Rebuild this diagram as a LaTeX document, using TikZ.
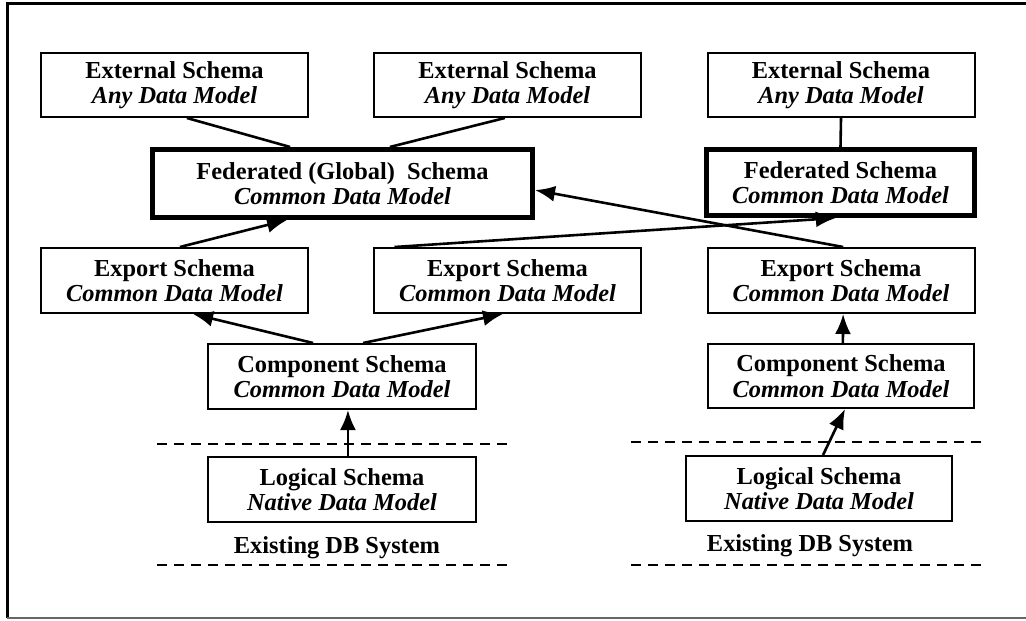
\documentclass[tikz,border=0pt]{standalone}
\usepackage{fontspec}
\setmainfont{Liberation Serif}
\usetikzlibrary{arrows.meta,calc}

\tikzset{
  x=0.5pt, y=-0.5pt,
  txt/.style={font=\fontsize{12.2}{12.8}\selectfont\bfseries, align=center},
  schema/.style={txt, draw, line width=1pt, inner sep=0pt,
                 minimum width=133.5pt, minimum height=32pt},
  fedbox/.style={schema, line width=2.5pt},
  conn/.style={line width=1.3pt},
  arr/.style={conn, -{Latex[length=10pt,width=8pt]}},
  sep/.style={dashed, line width=0.6pt, dash pattern=on 5pt off 3.5pt},
}
\newcommand{\sch}[2]{#1\\\textit{#2}}

\begin{document}
\begin{tikzpicture}
\useasboundingbox (0,0) rectangle (1026,620);

% frame
\draw[line width=1.5pt] (1026,4) -- (7,4) -- (7,618);
\draw[line width=0.8pt, black!60] (7,618) -- (1026,618);

% external level
\node[schema] (e1) at (174.5,85) {\sch{External Schema}{Any Data Model}};
\node[schema] (e2) at (507.5,85) {\sch{External Schema}{Any Data Model}};
\node[schema] (e3) at (841,85)   {\sch{External Schema}{Any Data Model}};

% federated level
\node[fedbox, minimum width=190pt, minimum height=34pt] (fg) at (342.5,183.5)
  {\sch{Federated (Global)~ Schema}{Common Data Model}};
\node[fedbox, minimum width=134pt, minimum height=33pt] (fr) at (840.5,182.5)
  {\sch{Federated Schema}{Common Data Model}};

% export level
\node[schema, minimum height=32.5pt] (x1) at (174.5,280.5) {\sch{Export Schema}{Common Data Model}};
\node[schema, minimum height=32.5pt] (x2) at (507.5,280.5) {\sch{Export Schema}{Common Data Model}};
\node[schema, minimum height=32.5pt] (x3) at (841,280.5)   {\sch{Export Schema}{Common Data Model}};

% component level
\node[schema, minimum width=134pt, minimum height=32.5pt] (c1) at (342,376.5) {\sch{Component Schema}{Common Data Model}};
\node[schema, minimum width=133pt, minimum height=32pt] (c2) at (841,376) {\sch{Component Schema}{Common Data Model}};

% local level
\node[schema, minimum width=134pt, minimum height=32.5pt] (l1) at (342,489.5) {\sch{Logical Schema}{Native Data Model}};
\node[schema, minimum width=133pt, minimum height=32.5pt] (l2) at (819,488.5) {\sch{Logical Schema}{Native Data Model}};

\node[txt] (db1) at (337,548) {Existing DB System};
\node[txt] (db2) at (810,546) {Existing DB System};

% system boundaries
\coordinate (s1a) at (157,444); \coordinate (s1b) at (510,444);
\coordinate (s2a) at (157,565); \coordinate (s2b) at (510,565);
\coordinate (s3a) at (631,442); \coordinate (s3b) at (982,442);
\coordinate (s4a) at (631,565); \coordinate (s4b) at (982,565);
\draw[sep] (s1a) -- (s1b);
\draw[sep] (s2a) -- (s2b);
\draw[sep] (s3a) -- (s3b);
\draw[sep] (s4a) -- (s4b);

% external to federated
\draw[conn] ($(e1.south west)!0.546!(e1.south east)$) -- ($(fg.north west)!0.364!(fg.north east)$);
\draw[conn] ($(e2.south west)!0.49!(e2.south east)$) -- ($(fg.north west)!0.623!(fg.north east)$);
\draw[conn] (e3.south) -- (fr.north);

% export to federated
\draw[arr] ($(x1.north west)!0.52!(x1.north east)$) -- ($(fg.south west)!0.356!(fg.south east)$);
\draw[arr] ($(x2.north west)!0.08!(x2.north east)$) -- ($(fr.south west)!0.483!(fr.south east)$);
\draw[arr] ($(x3.north west)!0.508!(x3.north east)$) -- ($(fg.north east)!0.59!(fg.south east)$);

% component to export
\draw[arr] ($(c1.north west)!0.393!(c1.north east)$) -- ($(x1.south west)!0.569!(x1.south east)$);
\draw[arr] ($(c1.north west)!0.578!(c1.north east)$) -- ($(x2.south west)!0.483!(x2.south east)$);
\draw[arr] ($(c2.north west)!0.507!(c2.north east)$) -- ($(x3.south west)!0.508!(x3.south east)$);

% logical to component
\draw[arr] ($(l1.north west)!0.522!(l1.north east)$) -- ($(c1.south west)!0.522!(c1.south east)$);
\draw[arr] ($(l2.north west)!0.515!(l2.north east)$) -- ($(c2.south west)!0.515!(c2.south east)$);
\end{tikzpicture}
\end{document}
